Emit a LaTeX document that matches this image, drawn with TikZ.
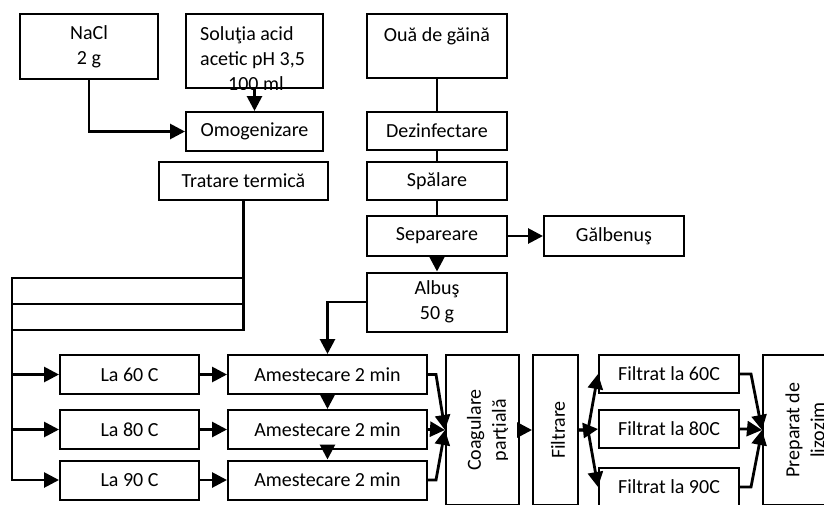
\documentclass[tikz,border=0pt]{standalone}
\usepackage{fontspec}
\setmainfont{Carlito}
\usetikzlibrary{positioning,arrows.meta}
\tikzset{
  box/.style={draw, line width=2pt, align=center, inner sep=0pt, minimum height=38pt},
  vtxt/.style={rotate=90, align=center, inner sep=0pt},
  arr/.style={-{Triangle[length=15pt,width=15pt]}, line width=2.8pt},
  ln/.style={line width=2.8pt},
}

\begin{document}
\begin{tikzpicture}[x=1pt, y=-1pt, every node/.style={font=\fontsize{20}{25}\selectfont}]
  \clip (0,0) rectangle (824,504);
  \fill[white] (0,0) rectangle (824,504);

  % reagents
  \node[box, minimum width=138pt, minimum height=65pt] (nacl) at (89,46.5) {NaCl\\2 g};
  \node[box, minimum width=137pt, minimum height=74pt] (sol) at (254.5,51) {};
  \begin{scope}
    \clip (sol.north west) rectangle (sol.south east);
    \node[anchor=north west, align=left, inner sep=0pt] (soltxt) at (200,26)
      {Soluţia acid\\acetic pH 3,5\\\hspace{28pt}100 ml};
  \end{scope}
  \node[box, minimum width=137pt, minimum height=39pt] (omog) at (254.5,131.5) {Omogenizare};
  \node[box, minimum width=169pt] (trat) at (243.5,181) {Tratare termică};

  % eggs
  \node[box, minimum width=140pt, minimum height=64pt] (oua) at (437,46) {};
  \node[anchor=north, inner sep=0pt] (ouatxt) at (437,27) {Ouă de găină};
  \node[box, minimum width=140pt] (dez) at (437,131) {Dezinfectare};
  \node[box, minimum width=140pt] (spal) at (437,181) {Spălare};
  \node[box, minimum width=140pt, minimum height=40pt] (sep) at (437,236) {Separeare};
  \node[box, minimum width=140pt, minimum height=40pt] (galb) at (614,236) {Gălbenuş};
  \node[box, minimum width=140pt, minimum height=59pt] (albus) at (437,302) {Albuş\\50 g};

  % temperature rows
  \foreach \t/\y in {60/374.5, 80/429.5, 90/480}{
    \node[box, minimum width=139pt, minimum height=39pt] (la\t) at (129.5,\y) {La \t\ C};
    \node[box, minimum width=199pt, minimum height=39pt] (am\t) at (327.5,\y) {Amestecare 2 min};
  }

  \node[box, minimum width=73pt, minimum height=150pt] (coag) at (482.5,430) {};
  \begin{scope}
    \clip (coag.north west) rectangle (507,505);
    \node[vtxt] (coagtxt) at (488,430) {Coagulare\\parţială};
  \end{scope}
  \node[box, minimum width=45pt, minimum height=150pt] (filt) at (555.5,430) {};
  \node[vtxt] (filttxt) at (558,430) {Filtrare};

  \node[box, minimum width=140pt] (f60) at (669,374) {Filtrat la 60C};
  \node[box, minimum width=140pt] (f80) at (669,429) {Filtrat la 80C};
  \node[box, minimum width=140pt] (f90) at (669,487) {Filtrat la 90C};
  \node[box, minimum width=80pt, minimum height=150pt] (prep) at (803,430) {};
  \node[vtxt] (preptxt) at (805,430) {Preparat de\\lizozim};

  % connectors
  \draw[arr] (nacl.south) |- (omog.west);
  \draw[arr] (sol) -- (omog);
  \foreach \t/\y in {60/278, 80/304, 90/330}
    \draw[arr] (trat.south) |- (12,\y) |- (la\t.west);

  \draw[ln] (oua) -- (dez);
  \draw[ln] (dez) -- (spal);
  \draw[ln] (spal) -- (sep);
  \draw[arr] (sep) -- (galb);
  \draw[arr] (sep) -- (albus);
  \draw[arr] (albus.west) -| (am60.north);

  \foreach \t in {60,80,90}
    \draw[arr] (la\t) -- (am\t);
  \draw[arr] (am60) -- (am80);
  \draw[arr] (am80) -- (am90);
  \foreach \t in {60,80,90}
    \draw[arr] (am\t.east) -- ++(8,0) -- (coag.west);
  \draw[arr] (coag) -- (filt);

  \coordinate (fsplit) at (588,430);
  \foreach \t in {60,80,90}
    \draw[arr] (filt.east) -- (fsplit) -- (f\t.west);
  \foreach \t in {60,80,90}
    \draw[arr] (f\t.east) -- ++(11,0) -- (prep.west);
\end{tikzpicture}
\end{document}
